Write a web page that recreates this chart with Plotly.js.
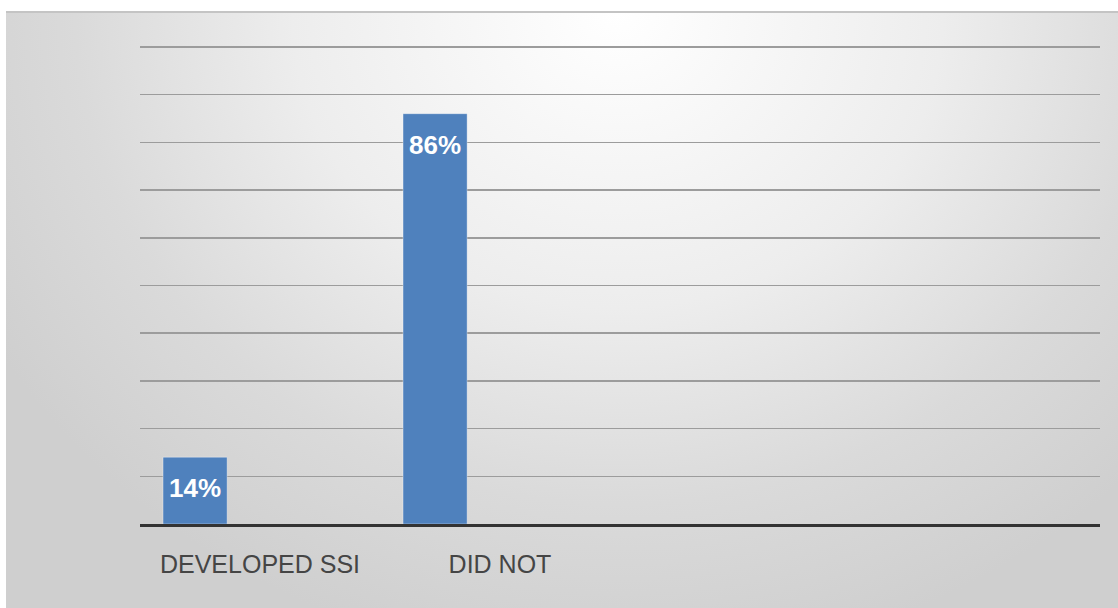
<!DOCTYPE html>
<html>
<head>
<meta charset="utf-8">
<script src="https://cdn.plot.ly/plotly-3.0.1.min.js"></script>
<style>
  html, body { margin: 0; padding: 0; background: #ffffff; width: 1118px; height: 608px; overflow: hidden; }
  #chart {
    position: absolute; left: 6px; top: 11px; width: 1112px; height: 597px;
    border-top: 2px solid #c4c4c4;
    box-sizing: border-box;
    background: radial-gradient(ellipse 65% 110% at 55% 0%, #ffffff 0%, #ededed 45%, #dadada 75%, #cfcfcf 100%);
  }
</style>
</head>
<body>
<div id="chart"></div>
<script>
// Surgical site infection outcome, share of patients (%)
const categories = ["DEVELOPED SSI", "DID NOT", "", ""];
const values = [14, 86];
const valueLabels = ["14%", "86%"];

// bar geometry inside each category slot (first of three clustered series)
const barWidth = 0.267;
const barOffset = -0.404;

const idx = values.map((_, i) => i);

const trace = {
  type: "bar",
  x: idx,
  y: values,
  width: barWidth,
  offset: barOffset,
  marker: { color: "#4f81bd", line: { color: "rgba(255,255,255,0.35)", width: 1 } },
  hoverinfo: "skip",
  showlegend: false
};

const annotations = values.map((v, i) => ({
  x: i + barOffset + barWidth / 2,
  y: v,
  xref: "x", yref: "y",
  text: "<b>" + valueLabels[i] + "</b>",
  showarrow: false,
  xanchor: "center",
  yanchor: "top",
  yshift: -14,
  font: { family: "Liberation Sans, Arial, sans-serif", size: 26, color: "#ffffff" }
}));

const layout = {
  width: 1112,
  height: 597,
  margin: { l: 134, r: 18, t: 32, b: 86 },
  paper_bgcolor: "rgba(0,0,0,0)",
  plot_bgcolor: "rgba(0,0,0,0)",
  bargap: 0,
  xaxis: {
    range: [-0.5, categories.length - 0.5],
    tickvals: categories.map((_, i) => i),
    ticktext: categories,
    showgrid: false,
    zeroline: false,
    showline: true,
    linecolor: "#333333",
    linewidth: 3,
    ticks: "",
    ticklabelstandoff: 16,
    tickfont: { family: "Liberation Sans, Arial, sans-serif", size: 25, color: "#454545" },
    fixedrange: true
  },
  yaxis: {
    range: [0, 100.4],
    dtick: 10,
    showticklabels: false,
    showgrid: true,
    gridcolor: "#9c9c9c",
    gridwidth: 1.5,
    zeroline: false,
    showline: false,
    ticks: "",
    fixedrange: true
  },
  annotations: annotations
};

Plotly.newPlot("chart", [trace], layout, { displayModeBar: false, staticPlot: true });
</script>
</body>
</html>
